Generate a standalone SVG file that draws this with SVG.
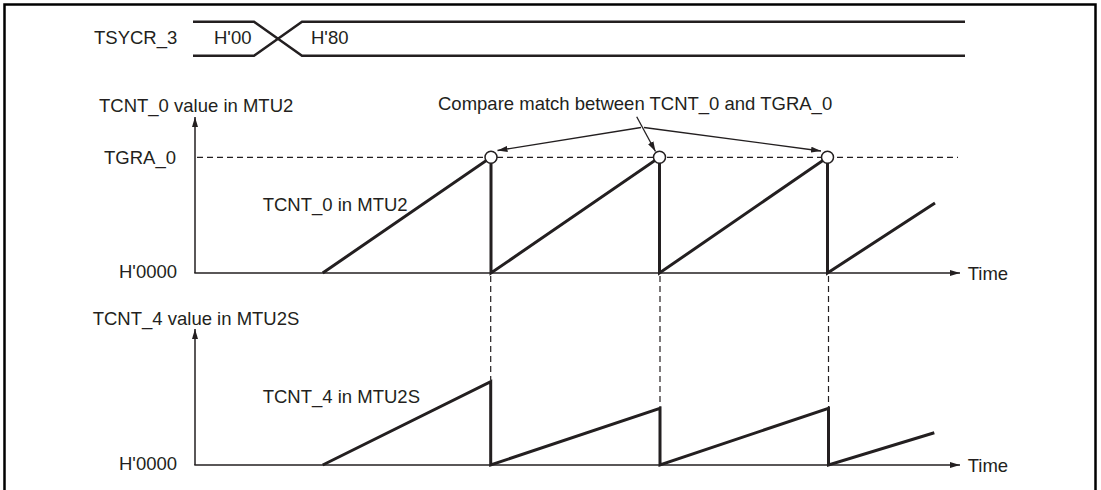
<svg xmlns="http://www.w3.org/2000/svg" width="1101" height="490" viewBox="0 0 1101 490">
<style>
text{font-family:"Liberation Sans",Arial,sans-serif;font-size:18.5px;fill:#231f20}
.axis{stroke:#231f20;stroke-width:1.5;fill:none}
.wave{stroke:#231f20;stroke-width:3;fill:none;stroke-linejoin:miter}
.dash{stroke:#231f20;stroke-width:1.2;stroke-dasharray:6 4;fill:none}
.bus{stroke:#231f20;stroke-width:2.5;fill:none}
.lead{stroke:#231f20;stroke-width:1.3;fill:none}
.pt{fill:#fff;stroke:#231f20;stroke-width:1.5}
</style>
<defs>
<marker id="ah" viewBox="0 0 10 6" refX="10" refY="3" markerWidth="10" markerHeight="6" markerUnits="userSpaceOnUse" orient="auto"><path d="M0,0 L10,3 L0,6 z" fill="#231f20"/></marker>
</defs>
<rect x="4.5" y="4.5" width="1091" height="600" fill="none" stroke="#000" stroke-width="2.5"/>

<g id="tsycr">
<path class="bus" d="M193,21.7 H254 L302,55.7 H965 M193,55.7 H254 L302,21.7 H965"/>
<text x="94" y="43.5">TSYCR_3</text>
<text x="214" y="43.5">H'00</text>
<text x="311" y="43.5">H'80</text>
</g>

<g id="chart-mtu2">
<text x="99" y="112">TCNT_0 value in MTU2</text>
<text x="104" y="164">TGRA_0</text>
<text x="119" y="278">H'0000</text>
<text x="967.7" y="279.5">Time</text>
<line class="dash" x1="197" y1="157.3" x2="958" y2="157.3"/>
<path class="wave" d="M322.7,273 L491,157.3 V273 L659.5,157.3 V273 L827.5,157.3 V273 L935,203"/>
<circle class="pt" cx="491" cy="157.3" r="6"/>
<circle class="pt" cx="659.5" cy="157.3" r="6"/>
<circle class="pt" cx="827.5" cy="157.3" r="6"/>
<text x="262.7" y="211">TCNT_0 in MTU2</text>
</g>

<g id="chart-mtu2s">
<text x="92.7" y="325">TCNT_4 value in MTU2S</text>
<text x="119" y="470">H'0000</text>
<text x="967.7" y="471.5">Time</text>
<path class="wave" d="M322.7,465 L490.7,381.7 V465 L660,408.3 V465 L828.5,408.3 V465 L934.3,432.7"/>
<text x="262.7" y="403">TCNT_4 in MTU2S</text>
</g>

<g id="annotation">
<text x="438" y="110">Compare match between TCNT_0 and TGRA_0</text>
</g>

<g id="connectors">
<line class="axis" x1="195" y1="273" x2="195" y2="117" marker-end="url(#ah)"/>
<line class="axis" x1="194.3" y1="273" x2="960" y2="273" marker-end="url(#ah)"/>
<line class="axis" x1="195" y1="465" x2="195" y2="329" marker-end="url(#ah)"/>
<line class="axis" x1="194.3" y1="465" x2="960" y2="465" marker-end="url(#ah)"/>
<line class="dash" x1="490.7" y1="276" x2="490.7" y2="380"/>
<line class="dash" x1="660" y1="276" x2="660" y2="407"/>
<line class="dash" x1="828.5" y1="276" x2="828.5" y2="407"/>
<line class="lead" x1="641" y1="127.5" x2="497.5" y2="150.5" marker-end="url(#ah)"/>
<line class="lead" x1="636.7" y1="116.7" x2="655.5" y2="151.5" marker-end="url(#ah)"/>
<line class="lead" x1="644" y1="127.5" x2="821" y2="151" marker-end="url(#ah)"/>
</g>
</svg>
